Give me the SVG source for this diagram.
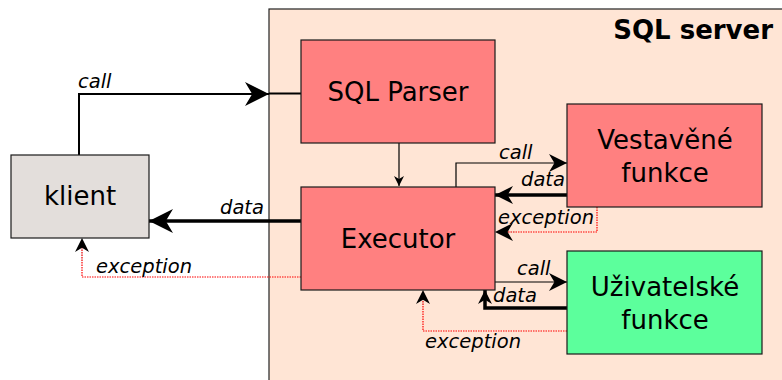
<svg xmlns="http://www.w3.org/2000/svg" width="782" height="380" viewBox="0 0 782 380">
<defs>
<style>
.node{stroke:#1a1a1a;stroke-width:1.2}
.lbl{font-family:"DejaVu Sans",sans-serif;font-size:26px;text-anchor:middle;fill:#000}
.it{font-family:"DejaVu Sans",sans-serif;font-size:19.5px;font-style:italic;fill:#000}
.c{fill:none;stroke:#000}
.ex{fill:none;stroke:#ff0000;stroke-width:1.2;stroke-dasharray:1.5 1}
</style>
<marker id="ah" viewBox="0 0 10 10" refX="10" refY="5" markerWidth="10" markerHeight="10" markerUnits="userSpaceOnUse" orient="auto">
<path d="M0,0 L10,5 L0,10 L3,5 Z" fill="#000"/>
</marker>
<marker id="ahL" viewBox="0 0 10 10" refX="10" refY="5" markerWidth="30" markerHeight="24" markerUnits="userSpaceOnUse" orient="auto">
<path d="M0,0 L10,5 L0,10 L3,5 Z" fill="#000"/>
</marker>
<marker id="ahM" viewBox="0 0 10 10" refX="10" refY="5" markerWidth="22" markerHeight="18" markerUnits="userSpaceOnUse" orient="auto">
<path d="M0,0 L10,5 L0,10 L3,5 Z" fill="#000"/>
</marker>
<marker id="ahS" viewBox="0 0 10 10" refX="10" refY="5" markerWidth="16" markerHeight="14" markerUnits="userSpaceOnUse" orient="auto">
<path d="M0,0 L10,5 L0,10 L3,5 Z" fill="#000"/>
</marker>
</defs>
<rect width="782" height="380" fill="#fff"/>
<g id="server">
<rect x="269" y="9" width="520" height="380" fill="#ffe5d5" stroke="#222" stroke-width="1.2"/>
<text x="773" y="39" font-family="DejaVu Sans,sans-serif" font-size="26" font-weight="bold" text-anchor="end">SQL server</text>
</g>
<g id="connectors">
<path class="c" stroke-width="2" d="M79,155 V94 H269" marker-end="url(#ahL)"/>
<path class="c" stroke-width="2" d="M269,93.5 H301"/>
<path class="c" stroke-width="3.5" d="M301,221 H149" marker-end="url(#ahL)"/>
<path class="ex" d="M301,277 H82 V240"/>
<path class="c" stroke-width="0.1" d="M82,262 V238" marker-end="url(#ahS)"/>
<path class="c" stroke-width="1.2" d="M399,143 V186" marker-end="url(#ah)"/>
<path class="c" stroke-width="1.2" d="M456,187 V163 H567" marker-end="url(#ahM)"/>
<path class="c" stroke-width="3.5" d="M567,195 H495" marker-end="url(#ahM)"/>
<path class="ex" d="M597,207 V232 H497"/>
<path class="c" stroke-width="0.1" d="M515,232 H495" marker-end="url(#ahM)"/>
<path class="c" stroke-width="1.2" d="M495,282 H567" marker-end="url(#ahM)"/>
<path class="c" stroke-width="3.5" d="M567,308 H485 V290" marker-end="url(#ahS)"/>
<path class="ex" d="M567,331 H423 V292"/>
<path class="c" stroke-width="0.1" d="M423,305 V290" marker-end="url(#ahS)"/>
<text class="it" x="78" y="88">call</text>
<text class="it" x="220" y="214">data</text>
<text class="it" x="96" y="273">exception</text>
<text class="it" x="499" y="159">call</text>
<text class="it" x="521" y="186">data</text>
<text class="it" x="498" y="224">exception</text>
<text class="it" x="517" y="275">call</text>
<text class="it" x="493" y="302">data</text>
<text class="it" x="425" y="348">exception</text>
</g>
<g id="klient">
<rect class="node" x="11" y="155" width="138" height="83" fill="#e3dedb"/>
<text class="lbl" x="80" y="205">klient</text>
</g>
<g id="parser">
<rect class="node" x="301" y="40" width="194" height="103" fill="#ff8080"/>
<text class="lbl" x="398" y="101">SQL Parser</text>
</g>
<g id="executor">
<rect class="node" x="301" y="187" width="194" height="103" fill="#ff8080"/>
<text class="lbl" x="398" y="248">Executor</text>
</g>
<g id="vestavene">
<rect class="node" x="567" y="104" width="195" height="103" fill="#ff8080"/>
<text class="lbl" x="665" y="149">Vestavěné</text>
<text class="lbl" x="665" y="182">funkce</text>
</g>
<g id="uzivatelske">
<rect class="node" x="567" y="251" width="195" height="103" fill="#5cff9c"/>
<text class="lbl" x="665" y="296">Uživatelské</text>
<text class="lbl" x="665" y="329">funkce</text>
</g>
</svg>
